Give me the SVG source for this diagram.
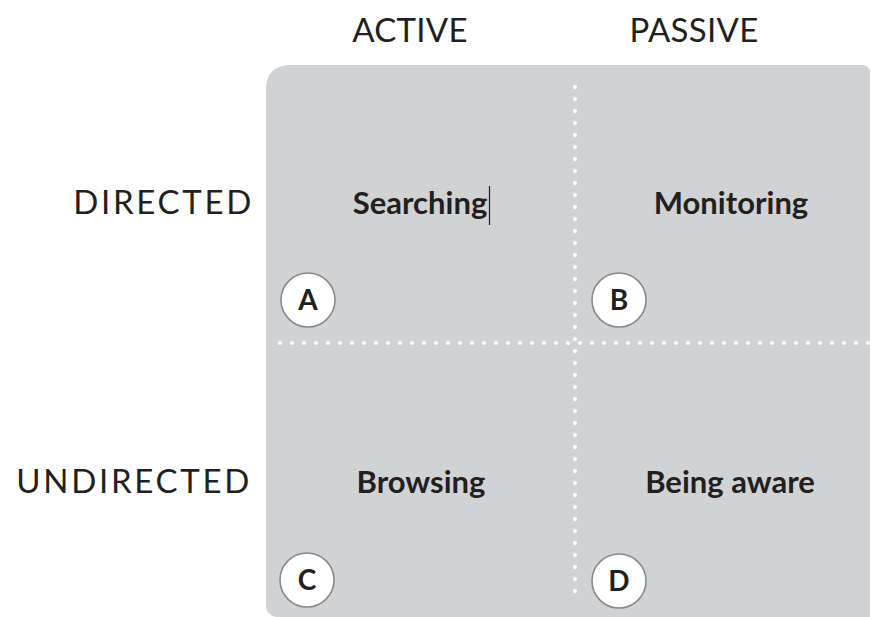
<svg xmlns="http://www.w3.org/2000/svg" width="871" height="617" viewBox="0 0 871 617">
<style>
.axis{font-family:Lato,"Open Sans","Liberation Sans",sans-serif;font-size:33px;fill:#231f20}
.col{letter-spacing:0.3px}
.row{letter-spacing:2.7px}
.cell{font-family:Lato,"Open Sans","Liberation Sans",sans-serif;font-size:31px;font-weight:bold;fill:#231f20;text-anchor:middle}
.badge circle{fill:#fff;stroke:#8a8a8a;stroke-width:1.6}
.badge text{font-family:Lato,"Open Sans","Liberation Sans",sans-serif;font-size:28px;font-weight:bold;fill:#231f20;text-anchor:middle}
.dots{stroke:#fff;stroke-width:4;stroke-linecap:round;stroke-dasharray:0 12;fill:none}
</style>
<rect width="871" height="617" fill="#fff"/>
<path id="panel" d="M291,65 H862 Q870,65 870,73 V617 H276 Q266,615 266,605 V90 Q266,65 291,65 Z" fill="#d1d2d4"/>
<g id="dividers">
<line class="dots" x1="575" y1="87" x2="575" y2="592"/>
<line class="dots" x1="280" y1="343" x2="871" y2="343"/>
</g>
<g id="col-headers">
<text class="axis col" x="410" y="42" text-anchor="middle">ACTIVE</text>
<text class="axis col" x="694" y="42" text-anchor="middle">PASSIVE</text>
</g>
<g id="row-headers">
<text class="axis row" x="254" y="214" text-anchor="end">DIRECTED</text>
<text class="axis row" x="252" y="493" text-anchor="end">UNDIRECTED</text>
</g>
<g id="cell-A">
<text class="cell" x="420" y="214">Searching</text>
<line x1="489.5" y1="186" x2="489.5" y2="225" stroke="#231f20" stroke-width="1.2"/>
<g class="badge"><circle cx="308" cy="300" r="27"/><text x="308" y="310">A</text></g>
</g>
<g id="cell-B">
<text class="cell" x="731" y="214">Monitoring</text>
<g class="badge"><circle cx="619" cy="300" r="27"/><text x="619" y="310">B</text></g>
</g>
<g id="cell-C">
<text class="cell" x="421" y="493">Browsing</text>
<g class="badge"><circle cx="307" cy="580" r="27"/><text x="307" y="590">C</text></g>
</g>
<g id="cell-D">
<text class="cell" x="730" y="493">Being aware</text>
<g class="badge"><circle cx="619" cy="581" r="27"/><text x="619" y="591">D</text></g>
</g>
</svg>
